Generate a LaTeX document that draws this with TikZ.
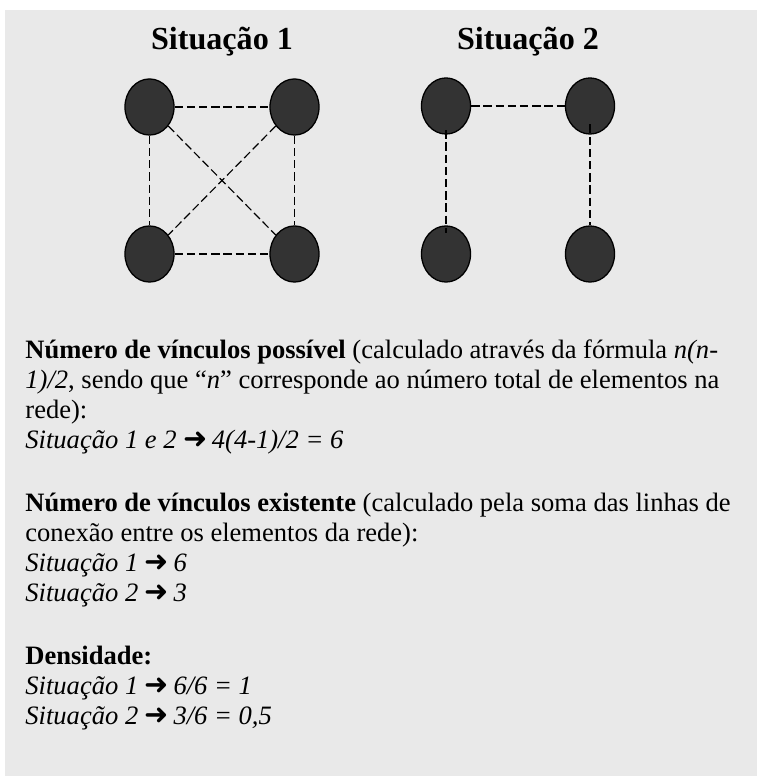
\documentclass[tikz,border=0pt]{standalone}
\usepackage{fontspec}
\setmainfont{Liberation Serif}
\newfontfamily\arrowfont{DejaVu Sans}
\usetikzlibrary{shapes.geometric}

\definecolor{panelgray}{RGB}{233,233,233}
\definecolor{actorgray}{RGB}{51,51,51}

\newcommand{\seta}{\raisebox{-0.3pt}{\arrowfont\fontsize{13.5}{14}\selectfont ➜}\,}

\tikzset{
  actor/.style={ellipse, draw=black, line width=0.6pt, fill=actorgray,
                minimum width=22.9pt, minimum height=26.2pt, inner sep=0pt},
  tie/.style={line width=0.55pt, dash pattern=on 3.9pt off 1.8pt},
  heading/.style={anchor=base, inner sep=0pt, font=\fontsize{15}{18}\selectfont\bfseries},
  bodyline/.style={anchor=base west, inner sep=0pt, font=\fontsize{12.4}{14.3}\selectfont}
}

\begin{document}
\begin{tikzpicture}[x=0.467pt, y=-0.467pt]
  \useasboundingbox (0,0) rectangle (758,776);
  \fill[panelgray] (5,10) rectangle (757,776);

  % Titles
  \node[heading] (title1) at (222,50) {Situação 1};
  \node[heading] (title2) at (528,50) {Situação 2};

  % Situation 1: every pair connected
  \node[actor] (a1) at (149.5,107) {};
  \node[actor] (b1) at (294.5,107) {};
  \node[actor] (c1) at (149.5,254) {};
  \node[actor] (d1) at (294.5,254) {};
  \draw[tie] (a1) -- (b1);
  \draw[tie] (c1) -- (d1);
  \draw[tie] (a1) -- (c1);
  \draw[tie] (b1) -- (d1);
  \draw[tie] (a1) -- (d1);
  \draw[tie] (b1) -- (c1);

  % Situation 2: only three ties
  \node[actor] (a2) at (446,106) {};
  \node[actor] (b2) at (590,106) {};
  \node[actor] (c2) at (446,254) {};
  \node[actor] (d2) at (590,254) {};
  \draw[tie] (a2) -- (b2);
  \draw[tie, shorten <=-2.1pt, shorten >=-3.6pt] (a2.south) -- (c2.north);
  \draw[tie, shorten <=-4.8pt] (b2.south) -- (d2.north);

  % Possible ties
  \node[bodyline] (p1a) at (25,358)
    {\textbf{Número de vínculos possível} (calculado através da fórmula \textit{n(n-}};
  \node[bodyline] (p1b) at (25,388)
    {\textit{1)/2}, sendo que “\textit{n}” corresponde ao número total de elementos na};
  \node[bodyline] (p1c) at (25,418) {rede):};
  \node[bodyline] (p1d) at (25,448)
    {\textit{Situação 1 e 2} \seta\textit{4(4-1)/2 = 6}};

  % Existing ties
  \node[bodyline] (p2a) at (25,511)
    {\textbf{Número de vínculos existente} (calculado pela soma das linhas de};
  \node[bodyline] (p2b) at (25,541) {conexão entre os elementos da rede):};
  \node[bodyline] (p2c) at (25,571) {\textit{Situação 1} \seta\textit{6}};
  \node[bodyline] (p2d) at (25,601) {\textit{Situação 2} \seta\textit{3}};

  % Density
  \node[bodyline] (p3a) at (25,664) {\textbf{Densidade:}};
  \node[bodyline] (p3b) at (25,694) {\textit{Situação 1} \seta\textit{6/6 = 1}};
  \node[bodyline] (p3c) at (25,724) {\textit{Situação 2} \seta\textit{3/6 = 0,5}};
\end{tikzpicture}
\end{document}
